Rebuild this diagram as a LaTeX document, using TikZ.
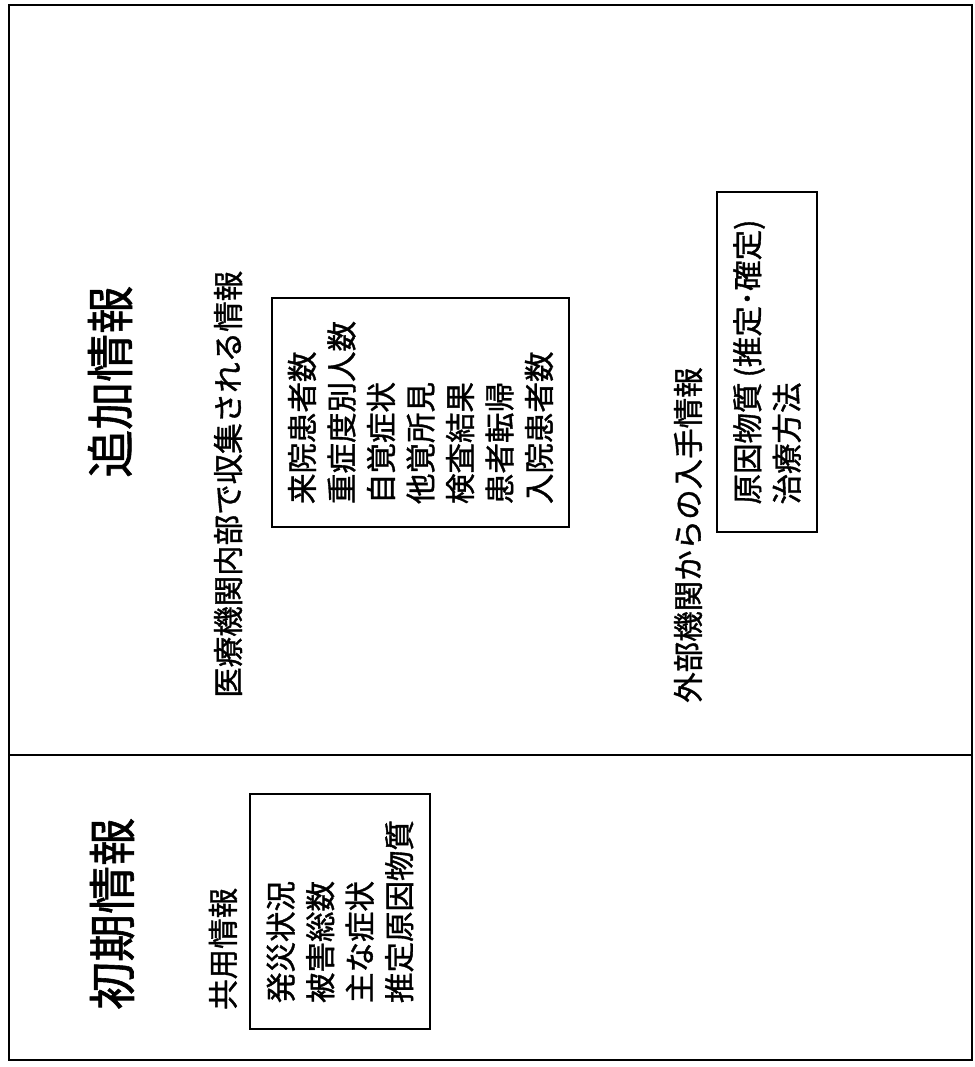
\documentclass[tikz,border=0pt]{standalone}
\usepackage{fontspec}
\newfontfamily\jp[FakeBold=1.2]{Noto Sans CJK JP}
\begin{document}
\begin{tikzpicture}[x=1pt,y=-1pt,
  frameline/.style={line width=1.8pt},
  title/.style={rotate=90,anchor=west,inner sep=0pt,font=\jp\fontsize{48}{48}\selectfont},
  heading/.style={rotate=90,anchor=west,inner sep=0pt,font=\jp\fontsize{30.5}{30.5}\selectfont},
  listbox/.style={draw,line width=1.4pt,rotate=90,align=left,inner sep=0pt,font=\jp\fontsize{30.5}{39.5}\selectfont}]
\useasboundingbox (0,0) rectangle (974,1067);
\draw[frameline] (9,5) rectangle (972,1060);
\draw[frameline] (9,755) -- (972,755);
% initial information
\node[title] (t1) at (112,1010) {初期情報};
\node[heading] (h1) at (223,1010) {共用情報};
\node[listbox,minimum width=235pt,minimum height=180pt] (b1) at (340,911.5)
  {発災状況\\被害総数\\主な症状\\推定原因物質};
% additional information
\node[title] (t2) at (110,478) {追加情報};
\node[heading] (h2) at (228,698) {医療機関内部で収集される情報};
\node[listbox,minimum width=229pt,minimum height=297pt] (b2) at (420.5,412.5)
  {来院患者数\\重症度別人数\\自覚症状\\他覚所見\\検査結果\\患者転帰\\入院患者数};
\node[heading] (h3) at (688,703) {外部機関からの入手情報};
\node[listbox,minimum width=340pt,minimum height=100pt] (b3) at (767,362)
  {原因物質\,(推定･確定)\\治療方法};
\end{tikzpicture}
\end{document}
